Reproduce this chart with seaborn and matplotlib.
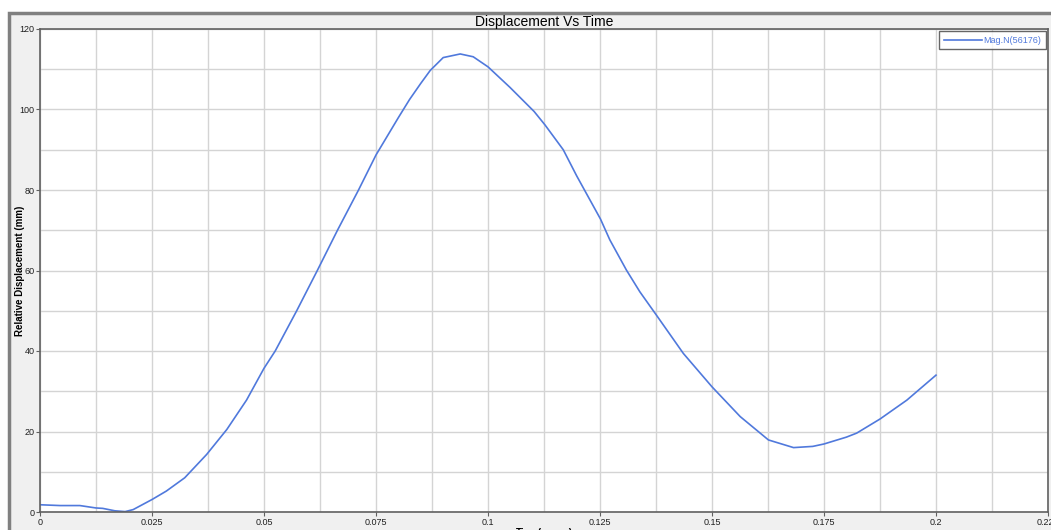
# Recreate HyperGraph-style "Displacement Vs Time" curve

import numpy as np
import pandas as pd
import matplotlib
matplotlib.use('Agg')
import matplotlib.pyplot as plt
import seaborn as sns
from matplotlib.patches import Rectangle
from matplotlib.ticker import MultipleLocator

# values
time_ms = [0.0, 0.0045, 0.0089, 0.0125, 0.014, 0.0167, 0.019, 0.0208, 0.025, 0.0282,
           0.0323, 0.0372, 0.0417, 0.0461, 0.05, 0.0525, 0.0573, 0.0619, 0.0664, 0.0711,
           0.075, 0.08, 0.0825, 0.085, 0.0871, 0.09, 0.0938, 0.0967, 0.1, 0.1049,
           0.1103, 0.1127, 0.1168, 0.1198, 0.1251, 0.1272, 0.1309, 0.1339, 0.1376, 0.1436,
           0.15, 0.1563, 0.1626, 0.1682, 0.1725, 0.175, 0.18, 0.1823, 0.1875, 0.1935, 0.2]
displacement = [1.8, 1.6, 1.6, 1.0, 0.9, 0.3, 0.1, 0.6, 3.1, 5.2,
                8.5, 14.3, 20.5, 27.8, 35.7, 40.0, 50.0, 60.0, 70.0, 80.0,
                88.7, 98.0, 102.5, 106.5, 109.7, 112.9, 113.8, 113.1, 110.6, 105.5,
                99.5, 96.2, 90.0, 83.5, 72.8, 67.6, 60.1, 54.7, 48.9, 39.4,
                31.1, 23.7, 17.9, 16.0, 16.3, 16.9, 18.6, 19.6, 23.1, 27.8, 34.0]
series_name = 'Mag.N(56176)'

df = pd.DataFrame({'time': time_ms, 'disp': displacement, 'series': series_name})

LINE = '#5079dc'
PANEL = '#f0f0f0'

plt.rcParams['font.family'] = ['Liberation Sans', 'DejaVu Sans']

fig = plt.figure(figsize=(10.51, 5.30), dpi=100, facecolor='white')
# window panel with dark frame on the left / top
fig.patches.append(Rectangle((9 / 1051, -0.05), 1.1, 1 - 13 / 530 + 0.05,
                             transform=fig.transFigure, facecolor=PANEL,
                             edgecolor='#808080', linewidth=2.5, zorder=-5))

ax = fig.add_axes([40 / 1051, 1 - 512 / 530, 1008 / 1051, 483 / 530])
ax.set_zorder(2)
ax.set_facecolor('white')

sns.lineplot(data=df, x='time', y='disp', hue='series', palette=[LINE],
             linewidth=1.2, ax=ax, sort=False)

ax.set_xlim(0, 0.225)
ax.set_ylim(0, 120)
ax.xaxis.set_major_locator(MultipleLocator(0.025))
ax.xaxis.set_minor_locator(MultipleLocator(0.0125))
ax.yaxis.set_major_locator(MultipleLocator(20))
ax.yaxis.set_minor_locator(MultipleLocator(10))
xt = ax.get_xticks()
ax.set_xticks(xt)
ax.set_xticklabels(['%g' % round(v, 4) for v in xt])
ax.set_xlim(0, 0.225)
ax.grid(True, which='both', color='#d4d4d4', linewidth=1)
ax.set_axisbelow(True)
ax.tick_params(which='major', length=3, width=0.8, color='#606060',
               labelsize=6.5, labelcolor='#202020', pad=1)
ax.tick_params(which='minor', length=0)

for s in ax.spines.values():
    s.set_color('#606060')
    s.set_linewidth(1.2)

ax.set_title('Displacement Vs Time', fontsize=10, pad=1.5, color='black')
ax.set_ylabel('Relative Displacement (mm)', fontsize=7, fontweight='bold')
ax.yaxis.set_label_coords(-0.0145, 0.5)
ax.set_xlabel('Time(m.sec)', fontsize=7, fontweight='bold', labelpad=1)

leg = ax.legend(loc='upper right', fontsize=6.5, frameon=True, fancybox=False,
                handlelength=4.2, handletextpad=0.2, borderpad=0.5,
                borderaxespad=0.25, title=None)
leg.get_frame().set_edgecolor('#404040')
leg.get_frame().set_linewidth(1)
for t in leg.get_texts():
    t.set_color(LINE)

fig.savefig('out.png', dpi=100, facecolor=fig.get_facecolor())
